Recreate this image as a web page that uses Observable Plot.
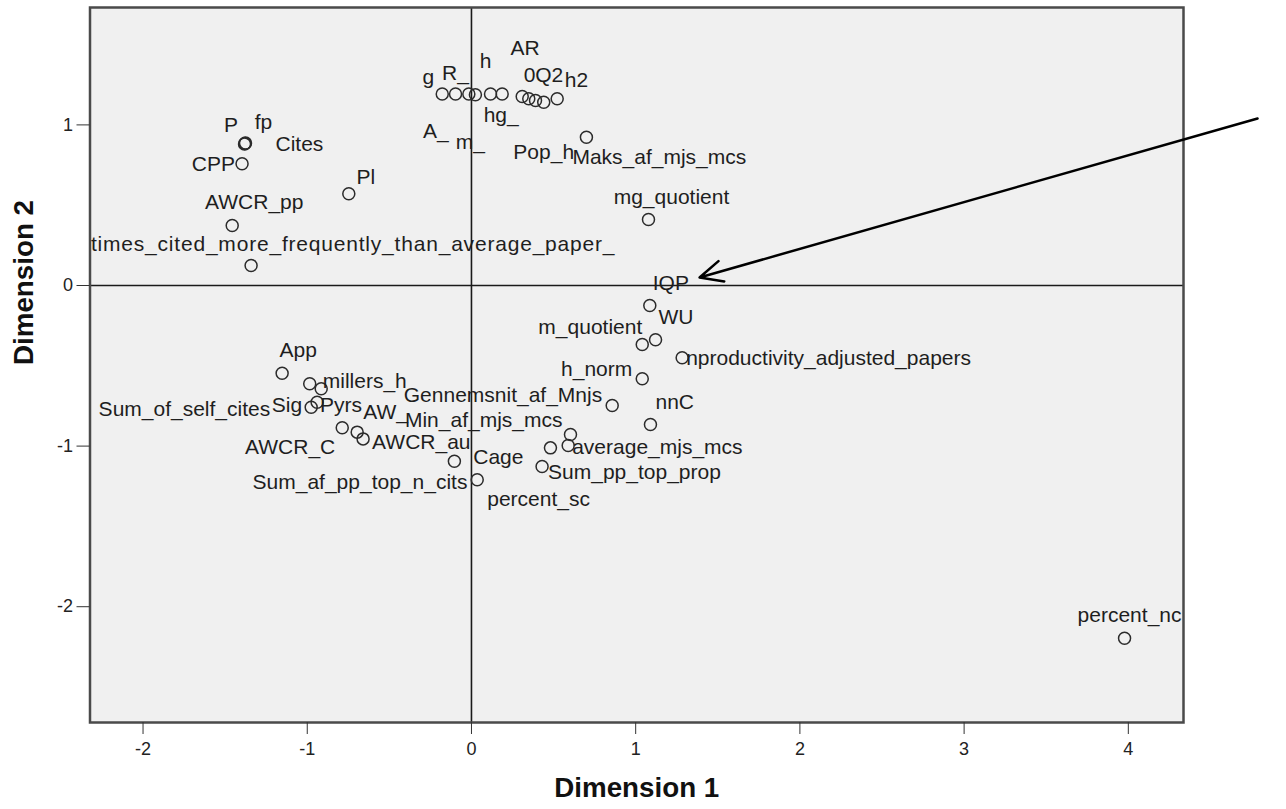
<!DOCTYPE html>
<html><head><meta charset="utf-8">
<script src="https://cdn.jsdelivr.net/npm/d3@7"></script>
<script src="https://cdn.jsdelivr.net/npm/@observablehq/plot@0.6"></script>
<style>
html,body{margin:0;padding:0;background:#fff;}
#chart svg{display:block;}
</style></head><body><div id="chart"></div>
<script>
// ---- data: object points of the joint plot (Dimension 1, Dimension 2) ----
const names = ["P","fp","Cites","CPP","Pl","AWCR_pp","times_cited_more_frequently_than_average_paper_",
  "g","R_","A_","m_","h","hg_","AR","0","h2","Pop_h","Q2","Maks_af_mjs_mcs","mg_quotient",
  "IQP","WU","m_quotient","nproductivity_adjusted_papers","h_norm","Gennemsnit_af_Mnjs","nnC",
  "Min_af_mjs_mcs","average_mjs_mcs","Cage","Sum_pp_top_prop","percent_sc","Sum_af_pp_top_n_cits",
  "App","millers_h","Sum_of_self_cites","Pyrs","Sig","AWCR_C","AW_","AWCR_au","percent_nc"];
const dim1 = [-1.379,-1.376,-1.382,-1.397,-0.747,-1.457,-1.342,
  -0.178,-0.097,-0.016,0.024,0.116,0.187,0.309,0.349,0.390,0.440,0.522,0.700,1.078,
  1.086,1.121,1.040,1.283,1.040,0.857,1.090,
  0.603,0.589,0.481,0.430,0.035,-0.104,
  -1.153,-0.985,-0.915,-0.940,-0.976,-0.787,-0.696,-0.660,3.977];
const dim2 = [0.884,0.887,0.881,0.758,0.571,0.374,0.125,
  1.192,1.192,1.192,1.188,1.192,1.192,1.177,1.163,1.152,1.141,1.163,0.923,0.411,
  -0.125,-0.338,-0.367,-0.450,-0.581,-0.747,-0.866,
  -0.928,-0.996,-1.011,-1.127,-1.210,-1.094,
  -0.546,-0.612,-0.643,-0.727,-0.758,-0.886,-0.913,-0.955,-2.196];
const xTicks = [-2,-1,0,1,2,3,4];
const yTicks = [-2,-1,0,1];
const xTitle = "Dimension 1";
const yTitle = "Dimension 2";
const arrowFrom = [4.787, 1.040];
const arrowTo = [1.389, 0.050];

// ---- label placement (pixel offsets from each point; style only) ----
const labelDx = [-14,18,31,-7,17,22,102, -14,0,-33,-5,-5,-1,3,-5,41,0,-22,-14,23,
  21,3,0,4,-10,-10,5, -8,4,-27,6,10,13, 16,13,-51,3,-9,-7,6,9,5];
const labelDy = [-18,-21,0,0,-17,-23,-21, -17,-21,37,48,-33,21,-48,-23,-20,50,-23,20,-22,
  -22,-23,-17,0,-10,-10,-22, -14,2,9,6,19,21, -23,-3,20,3,-2,19,-20,3,-23];
const labelAnchor = ["middle","middle","start","end","middle","middle","middle",
  "middle","middle","middle","middle","middle","middle","middle","start","middle","middle","start","start","middle",
  "middle","start","end","start","end","end","start",
  "end","start","end","start","start","end",
  "middle","start","end","start","end","end","start","start","middle"];

const idx = names.map((_, i) => i);
const font = "'Liberation Sans', Arial, Helvetica, sans-serif";

const labelMarks = idx.map(i => Plot.text([i], {
  x: j => dim1[j], y: j => dim2[j], text: j => names[j],
  dx: labelDx[i], dy: labelDy[i], textAnchor: labelAnchor[i],
  fontSize: 21, fill: "#1e1e1e", clip: true
}));

const plot = Plot.plot({
  width: 1286, height: 809,
  marginLeft: 89.5, marginRight: 103, marginTop: 7, marginBottom: 87,
  style: {fontFamily: font, background: "white", color: "#222"},
  x: {domain: [-2.323, 4.336]},
  y: {domain: [-2.721, 1.731]},
  marks: [
    Plot.frame({fill: "#f0f0f0"}),
    Plot.ruleX([0], {stroke: "#1a1a1a", strokeWidth: 1.6}),
    Plot.ruleY([0], {stroke: "#1a1a1a", strokeWidth: 1.6}),
    Plot.dot(idx, {x: i => dim1[i], y: i => dim2[i], r: 6, stroke: "#2b2b2b", strokeWidth: 1.5, fill: "none"}),
    ...labelMarks,
    Plot.frame({stroke: "#4a4a4a", strokeWidth: 2.5}),
    Plot.axisX(xTicks, {tickSize: 12, tickPadding: 8, fontSize: 18, stroke: "#333", label: null, tickFormat: d => String(d)}),
    Plot.axisY(yTicks, {tickSize: 13, tickPadding: 4, fontSize: 18, stroke: "#333", label: null, tickFormat: d => String(d)}),
    Plot.text([xTitle], {frameAnchor: "bottom", dy: 74, text: d => d, fontSize: 28, fontWeight: "bold", fill: "#111"}),
    Plot.text([yTitle], {frameAnchor: "left", dx: -66, rotate: -90, text: d => d, fontSize: 28, fontWeight: "bold", fill: "#111"}),
    Plot.arrow([0], {x1: () => arrowFrom[0], y1: () => arrowFrom[1], x2: () => arrowTo[0], y2: () => arrowTo[1],
      stroke: "#000", strokeWidth: 2.5, headLength: 15, headAngle: 50, bend: 0})
  ]
});
document.getElementById("chart").appendChild(plot);
const sel = d3.select(plot).selectAll("text");
sel.filter(function(){ return this.textContent === xTitle || this.textContent === yTitle; })
  .attr("textLength", 165).attr("lengthAdjust", "spacingAndGlyphs");
sel.filter(function(){ return this.textContent === names[6]; })
  .style("letter-spacing", "0.8px");
</script></body></html>
